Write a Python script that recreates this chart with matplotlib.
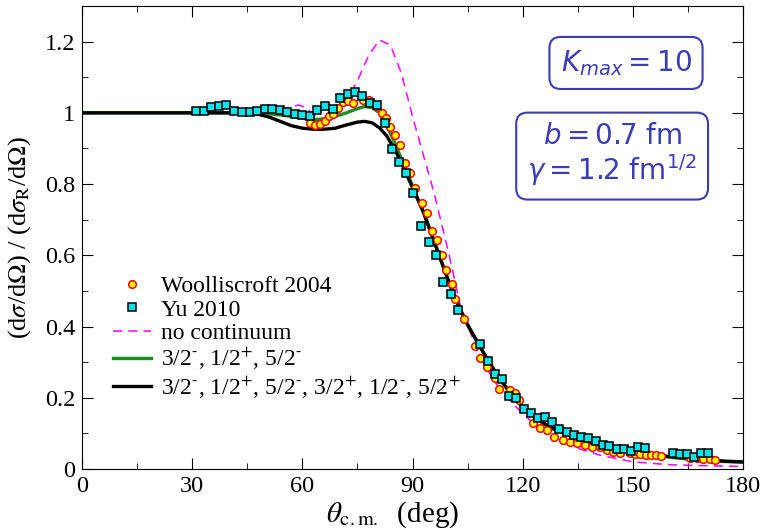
import matplotlib
matplotlib.use("Agg")
import matplotlib.pyplot as plt
from matplotlib.ticker import MultipleLocator

plt.rcParams['font.family'] = ['Liberation Serif', 'DejaVu Serif']
plt.rcParams['mathtext.fontset'] = 'stix'

# Woolliscroft 2004 data (angle in deg, ratio)
woll_x = [62.1, 63.5, 64.8, 66.2, 67.3, 68.4, 69.8, 71.2, 72.5, 73.9, 76.6, 78.2, 80.1, 81.6,
          82.8, 83.9, 85.2, 86.6, 88.0, 89.3, 90.8, 92.5, 93.9, 95.2, 96.6, 98.0, 99.2, 100.7,
          101.7, 104.1, 107.0, 108.4, 110.2, 112.4, 113.6, 116.6, 117.9, 119.1, 122.9, 124.7,
          126.5, 128.4, 131.1, 132.9, 134.7, 137.0, 138.8, 141.1, 142.9, 144.7, 146.5, 149.2,
          150.6, 152.0, 153.5, 155.0, 156.4, 157.8, 165.6, 167.4, 169.2, 171.0, 172.3]
woll_y = [0.971, 0.966, 0.968, 0.976, 0.990, 0.996, 1.013, 1.030, 1.032, 1.027, 1.037, 1.035,
          1.020, 0.999, 0.985, 0.960, 0.938, 0.910, 0.859, 0.831, 0.790, 0.748, 0.718, 0.667,
          0.643, 0.601, 0.559, 0.520, 0.478, 0.421, 0.346, 0.312, 0.287, 0.255, 0.224, 0.222,
          0.213, 0.194, 0.128, 0.114, 0.110, 0.091, 0.081, 0.077, 0.072, 0.067, 0.063, 0.061,
          0.053, 0.049, 0.046, 0.044, 0.043, 0.041, 0.040, 0.039, 0.038, 0.036, 0.030, 0.030,
          0.028, 0.028, 0.026]

# Yu 2010 data
yu_x = [31.0, 33.2, 35.1, 37.3, 39.2, 41.4, 43.6, 45.8, 47.6, 49.7, 51.8, 53.9, 55.9, 58.0,
        60.0, 62.1, 64.1, 66.2, 68.3, 70.3, 72.3, 74.3, 76.3, 78.4, 80.4, 82.5, 84.3, 86.3,
        88.3, 90.2, 92.3, 94.4, 96.4, 98.4, 100.4, 102.3, 108.5, 110.5, 112.4, 114.3, 116.3,
        118.2, 120.4, 122.2, 124.3, 126.1, 128.1, 130.0, 132.0, 134.0, 135.9, 137.9, 139.9,
        141.8, 143.6, 145.6, 147.5, 149.5, 151.3, 153.2, 161.0, 162.9, 164.8, 166.7, 168.6,
        170.5]
yu_y = [1.006, 1.006, 1.016, 1.018, 1.022, 1.005, 1.001, 1.001, 1.006, 1.010, 1.012, 1.008,
        1.003, 0.997, 0.994, 0.992, 1.008, 1.020, 1.012, 1.042, 1.053, 1.059, 1.046, 1.027,
        1.023, 0.971, 0.899, 0.863, 0.830, 0.774, 0.681, 0.638, 0.601, 0.526, 0.490, 0.447,
        0.351, 0.303, 0.267, 0.252, 0.205, 0.199, 0.168, 0.156, 0.142, 0.145, 0.133, 0.111,
        0.105, 0.096, 0.091, 0.086, 0.080, 0.067, 0.064, 0.057, 0.057, 0.050, 0.062, 0.060,
        0.046, 0.041, 0.041, 0.035, 0.044, 0.044]

# no continuum
nc_x = [0, 10, 20, 30, 40, 45, 50, 53, 56, 59, 61, 63, 65, 68, 70, 72, 75, 78, 81, 84, 87,
        90, 93, 96, 100, 103, 107.5, 110, 114, 120, 125, 130, 135, 141, 150, 160, 170, 180]
nc_y = [1.0, 1.0, 1.0, 1.0, 1.0, 1.0, 1.0, 1.005, 1.015, 1.022, 1.015, 0.995, 0.978, 0.978,
        1.0, 1.035, 1.09, 1.16, 1.205, 1.19, 1.11, 0.99, 0.88, 0.77, 0.6, 0.46, 0.335, 0.285,
        0.22, 0.155, 0.11, 0.08, 0.058, 0.039, 0.02, 0.012, 0.009, 0.007]

# 3/2-, 1/2+, 5/2-
g_x = [0, 10, 20, 30, 40, 45, 50, 55, 60, 63, 66, 69, 72, 75, 77, 79, 81, 83, 85, 87, 90,
       93, 96, 99, 102, 105, 108, 111, 114, 117, 120, 124, 128, 132, 136, 140, 145, 150, 155,
       160, 165, 170, 175, 180]
g_y = [1.0, 1.0, 1.0, 1.0, 1.0, 1.0, 0.998, 0.993, 0.985, 0.981, 0.983, 0.99, 1.0, 1.012,
       1.018, 1.015, 1.0, 0.965, 0.92, 0.87, 0.795, 0.722, 0.637, 0.551, 0.471, 0.405, 0.35,
       0.297, 0.249, 0.208, 0.173, 0.138, 0.113, 0.096, 0.081, 0.068, 0.056, 0.047, 0.039,
       0.033, 0.028, 0.024, 0.021, 0.019]

# 3/2-, 1/2+, 5/2-, 3/2+, 1/2-, 5/2+
k_x = [0, 10, 20, 30, 40, 45, 48, 51, 54, 57, 60, 63, 66, 69, 72, 75, 77, 79, 81, 83, 85, 87,
       90, 93, 96, 99, 102, 105, 108, 111, 114, 117, 120, 124, 128, 132, 136, 140, 145, 150,
       155, 160, 165, 170, 175, 180]
k_y = [1.0, 1.0, 1.0, 1.0, 1.0, 0.999, 0.996, 0.988, 0.976, 0.964, 0.957, 0.954, 0.954,
       0.957, 0.966, 0.974, 0.976, 0.972, 0.958, 0.935, 0.9, 0.86, 0.79, 0.72, 0.635, 0.55,
       0.47, 0.405, 0.35, 0.298, 0.25, 0.21, 0.175, 0.14, 0.115, 0.098, 0.083, 0.07, 0.058,
       0.049, 0.041, 0.035, 0.03, 0.026, 0.022, 0.02]

fig = plt.figure(figsize=(7.64, 5.30), dpi=100)
ax = fig.add_axes([82 / 764, 61 / 530, 661 / 764, 463 / 530])

m = r'$^{\text{-}}$'
p = r'$^{+}$'
ax.plot(nc_x, nc_y, color='#ff00ff', lw=1.1, dashes=(6, 4), label='no continuum', zorder=2)
ax.plot(g_x, g_y, color='#1e8c1e', lw=2.4, label='3/2' + m + ', 1/2' + p + ', 5/2' + m,
        zorder=3)
ax.plot(k_x, k_y, color='black', lw=2.4,
        label='3/2' + m + ', 1/2' + p + ', 5/2' + m + ', 3/2' + p + ', 1/2' + m + ', 5/2' + p,
        zorder=4)
ax.plot(woll_x, woll_y, 'o', ms=5.5, mfc='yellow', mec='red', mew=1.1,
        label='Woolliscroft 2004', zorder=5)
ax.plot(yu_x, yu_y, 's', ms=5.2, mfc='#00e5ee', mec='black', mew=1.1,
        label='Yu 2010', zorder=6)

ax.set_xlim(0, 180)
ax.set_ylim(0, 1.3)
ax.xaxis.set_major_locator(MultipleLocator(30))
ax.xaxis.set_minor_locator(MultipleLocator(15))
ax.yaxis.set_minor_locator(MultipleLocator(0.1))
ax.set_yticks([0, 0.2, 0.4, 0.6, 0.8, 1.0, 1.2])
ax.set_yticklabels(['0', '0.2', '0.4', '0.6', '0.8', '1', '1.2'])
ax.tick_params(which='both', direction='in', top=True, right=True, labelsize=17.5)
ax.tick_params(which='major', length=8, pad=5)
ax.tick_params(which='minor', length=4)

ax.set_xlabel(r'$\theta_{\rm c.m.}$  (deg)', fontsize=21, labelpad=0)
ax.xaxis.set_label_coords(0.47, -0.065)
ax.set_ylabel(r'(d$\sigma$/d$\Omega$) / (d$\sigma_{\rm R}$/d$\Omega$)', fontsize=19, labelpad=8)

handles, labels = ax.get_legend_handles_labels()
order = [3, 4, 0, 1, 2]
ax.legend([handles[i] for i in order], [labels[i] for i in order],
          loc='upper left', bbox_to_anchor=(0.029, 0.443), frameon=False, fontsize=17,
          handlelength=1.6, handletextpad=0.45, labelspacing=0.08, borderpad=0)

box_col = '#3c3cb4'
ax.text(0.823, 0.877, r'$K_{max} = 10$', transform=ax.transAxes, fontsize=20,
        color=box_col, ha='center', va='center', family='DejaVu Sans',
        math_fontfamily='dejavusans',
        bbox=dict(boxstyle='round,pad=0.4,rounding_size=0.4', fc='white', ec=box_col, lw=1.5))
ax.text(0.802, 0.678, '$b = 0.7$ fm\n' + r'$\gamma = 1.2$ fm$^{1/2}$', transform=ax.transAxes,
        fontsize=20, color=box_col, ha='center', va='center', multialignment='center',
        family='DejaVu Sans', math_fontfamily='dejavusans', linespacing=1.1,
        bbox=dict(boxstyle='round,pad=0.4,rounding_size=0.4', fc='white', ec=box_col, lw=1.5))

fig.savefig('out.png', dpi=100)
